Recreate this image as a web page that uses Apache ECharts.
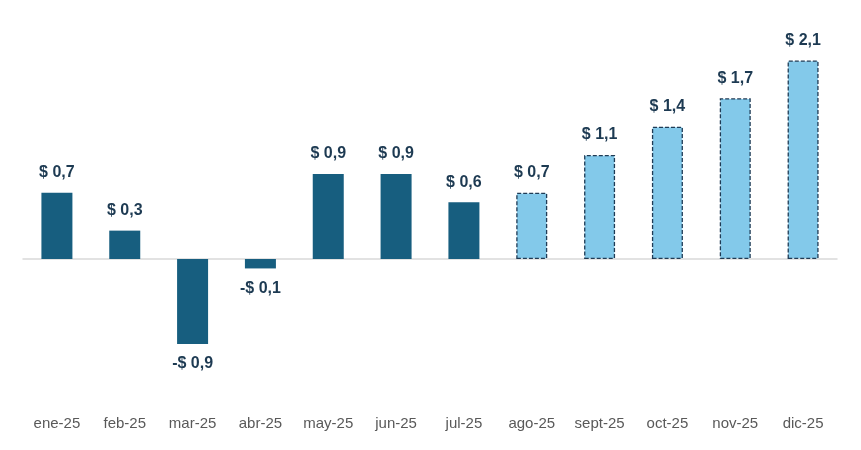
<!DOCTYPE html>
<html><head><meta charset="utf-8">
<script src="https://cdn.jsdelivr.net/npm/echarts@6/dist/echarts.min.js"></script>
<style>html,body{margin:0;padding:0;background:#fff}#c{width:861px;height:450px}</style>
</head><body><div id="c"></div>
<script>
const categories = ['ene-25','feb-25','mar-25','abr-25','may-25','jun-25','jul-25','ago-25','sept-25','oct-25','nov-25','dic-25'];
const values = [0.7, 0.3, -0.9, -0.1, 0.9, 0.9, 0.6, 0.7, 1.1, 1.4, 1.7, 2.1];
const projected = [false,false,false,false,false,false,false,true,true,true,true,true];

const DARK = '#175e7f', LIGHT = '#83c9ea', LABEL = '#1d3a52';
const fmt = v => (v < 0 ? '-$ ' : '$ ') + Math.abs(v).toFixed(1).replace('.', ',');

const data = values.map((v, i) => ({
  value: v,
  itemStyle: projected[i]
    ? { color: LIGHT, borderColor: '#1f3b55', borderWidth: 1.3, borderType: [4, 2] }
    : { color: DARK },
  label: { position: v < 0 ? 'bottom' : 'top', distance: 12 }
}));

const chart = echarts.init(document.getElementById('c'));
chart.setOption({
  animation: false,
  grid: { left: 23, right: 24, top: 22.7, bottom: 49.25 },
  xAxis: [{
    type: 'category', data: categories,
    axisLine: { show: false, onZero: false }, axisTick: { show: false },
    axisLabel: { color: '#595959', fontSize: 15, fontFamily: 'Liberation Sans, Arial', margin: 16 }
  }, {
    type: 'category', data: categories, position: 'bottom',
    axisLine: { show: true, onZero: true, lineStyle: { color: '#d9d9d9', width: 1.5 } },
    axisTick: { show: false }, axisLabel: { show: false }
  }],
  yAxis: { type: 'value', min: -1.5, max: 2.5, show: false, splitLine: { show: false } },
  series: [{
    type: 'bar', data: data, barWidth: 31, xAxisIndex: 0,
    label: {
      show: true, color: LABEL, fontSize: 16, fontWeight: 'bold',
      fontFamily: 'Liberation Sans, Arial', formatter: p => fmt(p.value)
    }
  }]
});
</script></body></html>
